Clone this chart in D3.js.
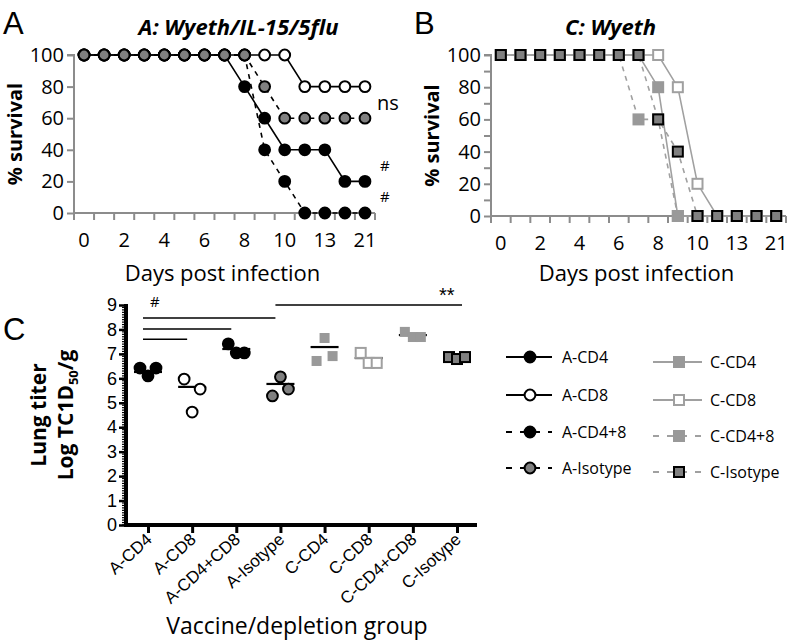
<!DOCTYPE html>
<html><head><meta charset="utf-8">
<script src="https://cdn.jsdelivr.net/npm/d3@7"></script>
<style>body{margin:0;background:#fff}svg{display:block}</style>
</head><body><svg id="c" width="793" height="640"></svg>
<script>
// ---------- DATA ----------
const days = ["0","1","2","3","4","5","6","7","8","9","10","12","13","14","21"];
const dayLabels = ["0","2","4","6","8","10","13","21"];
const survTicks = [0,20,40,60,80,100];
const survMinor = [0,10,20,30,40,50,60,70,80,90,100];

const aCD4   = [100,100,100,100,100,100,100,100,80,60,40,40,40,20,20];
const aCD8   = [100,100,100,100,100,100,100,100,100,100,100,80,80,80,80];
const aCD48  = [100,100,100,100,100,100,100,100,100,40,20,0,0,0,0];
const aIso   = [100,100,100,100,100,100,100,100,100,80,60,60,60,60,60];

const cCD4   = [100,100,100,100,100,100,100,100,80,0,0,0,0,0,0];
const cCD8   = [100,100,100,100,100,100,100,100,100,80,20,0,0,0,0];
const cCD48  = [100,100,100,100,100,100,100,60,60,0,0,0,0,0,0];
const cIso   = [100,100,100,100,100,100,100,100,60,40,0,0,0,0,0];

const groups = ["A-CD4","A-CD8","A-CD4+CD8","A-Isotype","C-CD4","C-CD8","C-CD4+CD8","C-Isotype"];
const titers = [[6.42,6.42,6.10],[5.97,5.56,4.62],[7.41,7.04,7.04],[6.06,5.56,5.28],
                [7.65,6.91,6.71],[7.04,6.63,6.63],[7.90,7.69,7.69],[6.87,6.79,6.87]];
const groupLines = [6.26,5.65,7.20,5.77,7.28,6.83,7.77,6.83];
const titerTicks = [0,1,2,3,4,5,6,7,8,9];
const legendA = ["A-CD4","A-CD8","A-CD4+8","A-Isotype"];
const legendC = ["C-CD4","C-CD8","C-CD4+8","C-Isotype"];

// ---------- STYLES ----------
const FS = "'Open Sans', 'Noto Sans', sans-serif";
const AR = "'Liberation Sans', Arial, sans-serif";
const AX = "#8c8c8c";
const styleA = [
  {fill:"#000", stroke:"#000", dash:null, line:"#000"},
  {fill:"#fff", stroke:"#000", dash:null, line:"#000"},
  {fill:"#000", stroke:"#000", dash:"5,5", line:"#000"},
  {fill:"#808080", stroke:"#000", dash:"5,5", line:"#000"}
];
const styleC = [
  {fill:"#999", stroke:"#999", dash:null, line:"#a0a0a0"},
  {fill:"#fff", stroke:"#a0a0a0", dash:null, line:"#a0a0a0"},
  {fill:"#999", stroke:"#999", dash:"5,5", line:"#a0a0a0"},
  {fill:"#808080", stroke:"#000", dash:"5,5", line:"#a0a0a0"}
];
const jitter = [[-1,1,0],[-1,1,0],[-1,0,1],[0,1,-1],[0,1,-1],[-1,0,1],[-1,0,1],[-1,0,1]];

const svg = d3.select("#c");

function marker(sel, shape, st, cx, cy) {
  if (shape === "circle") {
    sel.append("circle").attr("cx", cx).attr("cy", cy).attr("r", 5.4)
      .attr("fill", st.fill).attr("stroke", st.stroke).attr("stroke-width", 2);
  } else {
    sel.append("rect").attr("x", cx - 5).attr("y", cy - 5).attr("width", 10).attr("height", 10)
      .attr("fill", st.fill).attr("stroke", st.stroke).attr("stroke-width", 2);
  }
}

function survival(cfg) {
  const g = svg.append("g");
  const x = d3.scaleBand().domain(days).range([cfg.x0, cfg.x1]);
  const y = d3.scaleLinear().domain([0, 100]).range([cfg.y0, cfg.y1]);
  const ya = g.append("g").attr("transform", `translate(${cfg.x0},0)`)
    .call(d3.axisLeft(y).tickValues(cfg.minor ? survMinor : survTicks).tickSize(7).tickFormat(d => survTicks.includes(d) ? d : ""));
  ya.select(".domain").attr("stroke", AX).attr("stroke-width", 2).attr("d", `M-7,${y(100)}H0V${y(0)}`);
  ya.selectAll(".tick line").attr("stroke", AX).attr("stroke-width", 2);
  ya.selectAll(".tick text").attr("font-family", FS).attr("font-size", 20).attr("fill", "#000").attr("x", -10);
  const xa = g.append("g").attr("transform", `translate(0,${cfg.y0})`)
    .call(d3.axisBottom(x).tickValues(dayLabels).tickSize(0));
  xa.select(".domain").attr("stroke", AX).attr("stroke-width", 2).attr("d", `M${cfg.x0},0H${cfg.x1}`);
  xa.selectAll(".tick text").attr("font-family", FS).attr("font-size", 20).attr("fill", "#000").attr("dy", "1.55em");
  const bounds = days.map(d => x(d)).concat([cfg.x1]);
  g.selectAll("line.xt").data(bounds).join("line").attr("class", "xt")
    .attr("x1", d => d).attr("x2", d => d).attr("y1", cfg.y0).attr("y2", cfg.y0 + 7)
    .attr("stroke", AX).attr("stroke-width", 2);
  const cx = d => x(d) + x.bandwidth() / 2;
  cfg.series.forEach((s, i) => {
    const st = cfg.styles[i];
    g.append("path").datum(s).attr("fill", "none").attr("stroke", st.line).attr("stroke-width", 1.6)
      .attr("stroke-dasharray", st.dash)
      .attr("d", d3.line().x((v, k) => cx(days[k])).y(v => y(v)));
  });
  cfg.series.forEach((s, i) => {
    const st = cfg.styles[i];
    s.forEach((v, k) => marker(g, cfg.shape, st, cx(days[k]), y(v)));
  });
  g.append("text").attr("x", (cfg.x0 + cfg.x1) / 2 + cfg.tdx).attr("y", 35).attr("text-anchor", "middle")
    .attr("font-family", FS).attr("font-size", 22).attr("font-weight", "bold").attr("font-style", "italic")
    .text(cfg.title);
  g.append("text").attr("x", (cfg.x0 + cfg.x1) / 2 - 2).attr("y", 281).attr("text-anchor", "middle")
    .attr("font-family", FS).attr("font-size", 22).text("Days post infection");
  g.append("text").attr("transform", `translate(${cfg.x0 - 52},${(cfg.y0 + cfg.y1) / 2}) rotate(-90)`)
    .attr("text-anchor", "middle").attr("font-family", FS).attr("font-size", 20).attr("font-weight", "bold")
    .text("% survival");
  g.append("text").attr("x", cfg.lx).attr("y", 34).attr("font-family", AR).attr("font-size", 31).text(cfg.letter);
  return {x, y};
}

const A = survival({x0: 74, x1: 375, y0: 213, y1: 55, series: [aCD4, aCD8, aCD48, aIso], styles: styleA,
  shape: "circle", title: "A: Wyeth/IL-15/5flu", letter: "A", lx: 3, tdx: 14, minor: false});
survival({x0: 491, x1: 786, y0: 216, y1: 55, series: [cCD4, cCD8, cCD48, cIso], styles: styleC,
  shape: "rect", title: "C: Wyeth", letter: "B", lx: 414, tdx: -28, minor: true});

const ax = A.x, ay = A.y;
const lastX = ax(days[days.length - 1]) + ax.bandwidth();
svg.append("text").attr("x", lastX + 2).attr("y", ay(70) + 8).attr("font-family", FS).attr("font-size", 20).text("ns");
svg.append("text").attr("x", lastX + 5).attr("y", ay(30) + 5).attr("font-family", FS).attr("font-size", 15).text("#");
svg.append("text").attr("x", lastX + 5).attr("y", ay(10) + 5).attr("font-family", FS).attr("font-size", 15).text("#");

// ---------- PANEL C ----------
const gc = svg.append("g");
const X0 = 126, X1 = 477, Y0 = 525, Y1 = 305;
const xc = d3.scalePoint().domain(groups).range([148, 457]);
const yc = d3.scaleLinear().domain([0, 9]).range([Y0, Y1]);
gc.selectAll("line.mn").data(d3.range(0, 90).map(d => d / 10)).join("line").attr("class", "mn")
  .attr("x1", X0 - 4).attr("x2", X0).attr("y1", d => yc(d)).attr("y2", d => yc(d))
  .attr("stroke", "#000").attr("stroke-width", 1.2);
const yca = gc.append("g").attr("transform", `translate(${X0},0)`)
  .call(d3.axisLeft(yc).tickValues(titerTicks).tickSize(7).tickFormat(d3.format("d")));
yca.select(".domain").attr("stroke", "#000").attr("stroke-width", 4).attr("d", `M0,${Y1 - 1}V${Y0}`);
yca.selectAll(".tick line").attr("stroke", "#000").attr("stroke-width", 2.5);
yca.selectAll(".tick text").attr("font-family", AR).attr("font-size", 18).attr("fill", "#000").attr("x", -9);
const xca = gc.append("g").attr("transform", `translate(0,${Y0})`)
  .call(d3.axisBottom(xc).tickSize(8).tickFormat(""));
xca.select(".domain").attr("stroke", "#000").attr("stroke-width", 4).attr("d", `M${X0 - 2},0H${X1}`);
xca.selectAll(".tick line").attr("stroke", "#000").attr("stroke-width", 3);
gc.selectAll("text.xl").data(groups).join("text").attr("class", "xl")
  .attr("transform", d => `translate(${xc(d) + 5},${Y0 + 16}) rotate(-42)`)
  .attr("text-anchor", "end").attr("font-family", AR).attr("font-size", 17).text(d => d);

gc.selectAll("line.gl").data(groups).join("line").attr("class", "gl")
  .attr("x1", d => xc(d) - 14).attr("x2", d => xc(d) + 14)
  .attr("y1", (d, i) => yc(groupLines[i])).attr("y2", (d, i) => yc(groupLines[i]))
  .attr("stroke", "#000").attr("stroke-width", 2.2);
groups.forEach((gname, i) => {
  const st = i < 4 ? styleA[i] : styleC[i - 4];
  const shape = i < 4 ? "circle" : "rect";
  const pst = (i === 4 || i === 6) ? {fill: "#999", stroke: "none"} : st;
  titers[i].forEach((v, k) => marker(gc, shape, pst, xc(gname) + jitter[i][k] * 8, yc(v)));
});

const bars = [
  {from: 0, to: 1, lvl: 7.6},
  {from: 0, to: 2, lvl: 8.02},
  {from: 0, to: 3, lvl: 8.47},
  {from: 3, to: 7, lvl: 9.0}
];
gc.selectAll("line.sb").data(bars).join("line").attr("class", "sb")
  .attr("x1", d => xc(groups[d.from]) - 5).attr("x2", d => xc(groups[d.to]) + (d.to === 7 ? 5 : -5))
  .attr("y1", d => yc(d.lvl)).attr("y2", d => yc(d.lvl)).attr("stroke", "#000").attr("stroke-width", 1.5);
gc.append("text").attr("x", xc(groups[0]) + 2).attr("y", yc(8.9)).attr("font-family", FS).attr("font-size", 15).text("#");
gc.append("text").attr("x", xc(groups[7]) - 18).attr("y", yc(9.0) - 3).attr("font-family", AR).attr("font-size", 20).text("**");

const ty = (Y0 + Y1) / 2;
gc.append("text").attr("transform", `translate(46,${ty}) rotate(-90)`).attr("text-anchor", "middle")
  .attr("font-family", FS).attr("font-size", 21).attr("font-weight", "bold").text("Lung titer");
const t2 = gc.append("text").attr("transform", `translate(73,${ty}) rotate(-90)`).attr("text-anchor", "middle")
  .attr("font-family", FS).attr("font-size", 21).attr("font-weight", "bold");
t2.append("tspan").text("Log TC1D");
t2.append("tspan").attr("font-size", 13).attr("dy", 5).text("50");
t2.append("tspan").attr("dy", -5).text("/g");
gc.append("text").attr("x", 297).attr("y", 634).attr("text-anchor", "middle")
  .attr("font-family", FS).attr("font-size", 23).text("Vaccine/depletion group");
gc.append("text").attr("x", 3).attr("y", 340).attr("font-family", AR).attr("font-size", 31).text("C");

// legend
const lg = svg.append("g");
const rowsA = [357, 395, 432, 468], rowsC = [362, 400, 436, 472];
legendA.forEach((name, i) => {
  const st = styleA[i], y = rowsA[i];
  lg.append("line").attr("x1", 506).attr("x2", 552).attr("y1", y).attr("y2", y)
    .attr("stroke", st.line).attr("stroke-width", 1.8).attr("stroke-dasharray", st.dash ? "6,8" : null);
  marker(lg, "circle", st, 530, y);
  lg.append("text").attr("x", 562).attr("y", y + 6).attr("font-family", FS).attr("font-size", 16).text(name);
});
legendC.forEach((name, i) => {
  const st = styleC[i], y = rowsC[i];
  lg.append("line").attr("x1", 653).attr("x2", 702).attr("y1", y).attr("y2", y)
    .attr("stroke", st.line).attr("stroke-width", 1.8).attr("stroke-dasharray", st.dash ? "6,8" : null);
  marker(lg, "rect", st, 679, y);
  lg.append("text").attr("x", 710).attr("y", y + 6).attr("font-family", FS).attr("font-size", 16).text(name);
});
</script></body></html>
